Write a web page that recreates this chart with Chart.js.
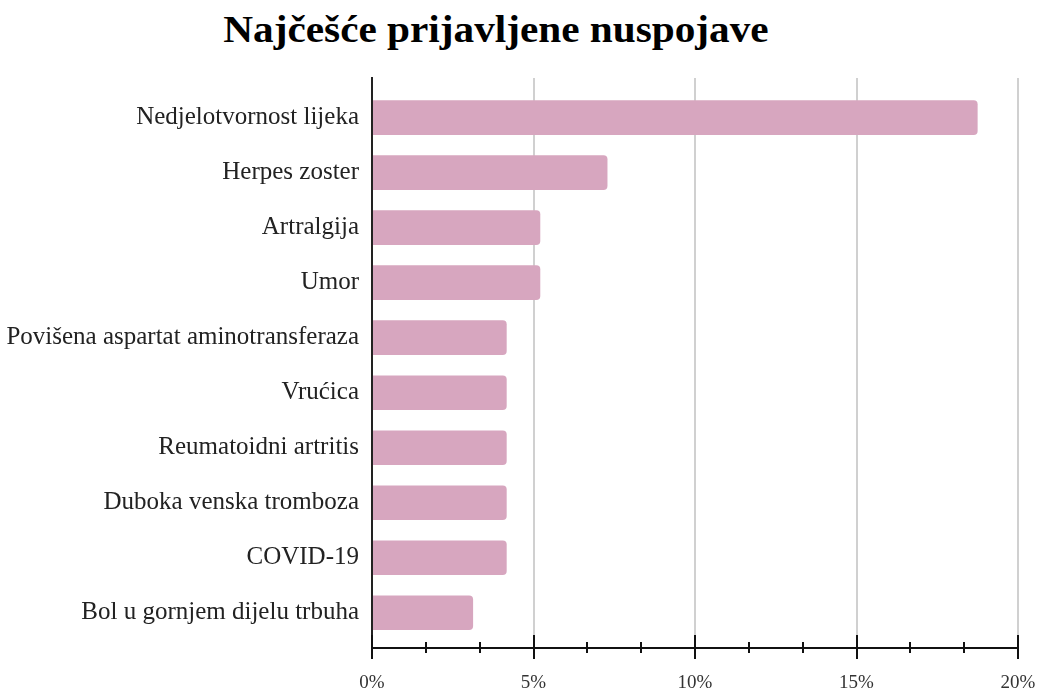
<!DOCTYPE html>
<html>
<head>
<meta charset="utf-8">
<script src="https://cdn.jsdelivr.net/npm/chart.js@4/dist/chart.umd.min.js"></script>
<style>
  html, body { margin: 0; padding: 0; background: #fff; }
  #wrap { position: relative; width: 1039px; height: 688px; }
  #title { position: absolute; left: 0; top: 10px; width: 992px; text-align: center;
           font-family: "Liberation Serif", "Times New Roman", serif; font-weight: bold;
           font-size: 37px; line-height: 40px; color: #000; transform: scaleX(1.115); transform-origin: 496px 0; }
  canvas { position: absolute; left: 0; top: 0; }
</style>
</head>
<body>
<div id="wrap">
  <div id="title">Najčešće prijavljene nuspojave</div>
  <canvas id="c" width="1039" height="688"></canvas>
</div>
<script>
const categories = [
  "Nedjelotvornost lijeka",
  "Herpes zoster",
  "Artralgija",
  "Umor",
  "Povišena aspartat aminotransferaza",
  "Vrućica",
  "Reumatoidni artritis",
  "Duboka venska tromboza",
  "COVID-19",
  "Bol u gornjem dijelu trbuha"
];
const percentValues = [18.75, 7.29, 5.21, 5.21, 4.17, 4.17, 4.17, 4.17, 4.17, 3.13];
const xTickMajorStep = 5;
const xTickMinorStep = 5 / 3;

const FONT = '"Liberation Serif", "Times New Roman", serif';

const isMajor = v => Math.abs(v / xTickMajorStep - Math.round(v / xTickMajorStep)) < 1e-6;

const tickMarks = {
  id: 'tickMarks',
  afterDatasetsDraw(chart) {
    const xs = chart.scales.x;
    const ctx = chart.ctx;
    const y0 = chart.chartArea.bottom;
    ctx.save();
    ctx.strokeStyle = '#111';
    ctx.lineWidth = 2;
    xs.ticks.forEach(t => {
      const px = Math.round(xs.getPixelForValue(t.value));
      const maj = isMajor(t.value);
      ctx.beginPath();
      ctx.moveTo(px, y0 - (maj ? 13 : 6));
      ctx.lineTo(px, y0 + (maj ? 11 : 5));
      ctx.stroke();
    });
    ctx.restore();
  }
};

new Chart(document.getElementById('c'), {
  type: 'bar',
  data: {
    datasets: [{
      data: percentValues.map((v, i) => ({ x: v, y: i })),
      backgroundColor: '#d7a6bf',
      borderWidth: 0,
      borderRadius: 4,
      barPercentage: 0.7,
      categoryPercentage: 0.9
    }]
  },
  options: {
    indexAxis: 'y',
    responsive: false,
    animation: false,
    layout: { padding: { top: 78, right: 21, left: 0, bottom: 0 } },
    plugins: { legend: { display: false }, tooltip: { enabled: false }, title: { display: false } },
    scales: {
      x: {
        type: 'linear',
        min: 0,
        max: 20,
        ticks: {
          stepSize: xTickMinorStep,
          includeBounds: false,
          autoSkip: false,
          maxRotation: 0,
          padding: 24,
          color: '#333',
          font: { family: FONT, size: 19 },
          callback: v => isMajor(v) ? Math.round(v) + '%' : ''
        },
        grid: {
          drawTicks: false,
          lineWidth: 2,
          color: ctx => (ctx.tick && isMajor(ctx.tick.value)) ? '#d0d0d0' : 'rgba(0,0,0,0)'
        },
        border: { display: true, color: '#111', width: 2 },
        afterFit: s => { s.height = 40; s.paddingLeft = 0; s.paddingRight = 0; }
      },
      y: {
        type: 'linear',
        reverse: true,
        offset: false,
        min: -0.72,
        max: 9.64,
        afterBuildTicks: s => { s.ticks = categories.map((_, i) => ({ value: i })); },
        ticks: {
          autoSkip: false,
          padding: 13,
          color: '#222',
          font: { family: FONT, size: 25 },
          callback: v => categories[v]
        },
        grid: { display: false, drawTicks: false, offset: false },
        border: { display: true, color: '#222', width: 2 },
        afterFit: s => { s.width = 372; s.paddingTop = 0; s.paddingBottom = 0; }
      }
    }
  },
  plugins: [tickMarks]
});
</script>
</body>
</html>
